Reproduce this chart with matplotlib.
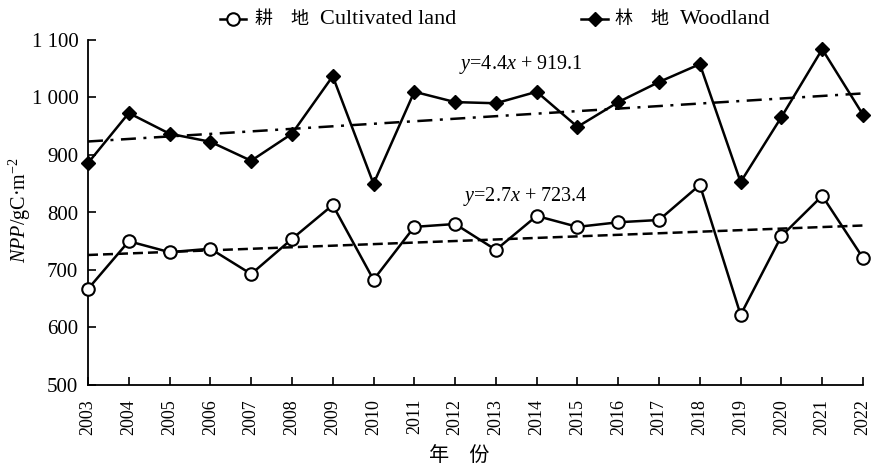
import matplotlib
matplotlib.use("Agg")
import matplotlib.pyplot as plt
import numpy as np
from matplotlib.lines import Line2D

plt.rcParams['font.family'] = ['Liberation Serif', 'Noto Sans CJK SC', 'DejaVu Sans']
plt.rcParams['mathtext.fontset'] = 'custom'
plt.rcParams['mathtext.rm'] = 'Liberation Serif'
plt.rcParams['mathtext.it'] = 'Liberation Serif:italic'

years = list(range(2003, 2023))
woodland = [886, 973, 937, 923, 890, 937, 1037, 850, 1010, 992,
            990, 1010, 949, 992, 1027, 1058, 853, 966, 1084, 970]
cultivated = [667, 750, 731, 737, 693, 754, 813, 683, 775, 780,
              735, 794, 775, 783, 787, 848, 622, 759, 829, 721]
wood_fit = (4.4, 919.1)
cult_fit = (2.7, 723.4)
yticks = [500, 600, 700, 800, 900, 1000, 1100]
ytick_labels = ['500', '600', '700', '800', '900', '1 000', '1 100']
legend_cn = ['耕　地', '林　地']
legend_en = ['Cultivated land', 'Woodland']

W, H = 871, 465
fig = plt.figure(figsize=(W / 100, H / 100), dpi=100)
ax = fig.add_axes([88 / W, 1 - 385 / H, 775 / W, 345 / H])

x = np.array(years)
idx = np.arange(1, len(years) + 1)

ax.plot(x, wood_fit[0] * idx + wood_fit[1], color='black', lw=1.8,
        linestyle=(0, (6, 3, 1.2, 3)), zorder=2, clip_on=False)
ax.plot(x, cult_fit[0] * idx + cult_fit[1], color='black', lw=1.8,
        linestyle=(0, (4, 2)), zorder=2, clip_on=False)

wood_style = dict(color='black', lw=1.8, marker='D', markersize=7,
                  markerfacecolor='black')
cult_style = dict(color='black', lw=1.8, marker='o', markersize=9,
                  markerfacecolor='white', markeredgewidth=1.5)
ax.plot(x, woodland, zorder=3, clip_on=False, **wood_style)
ax.plot(x, cultivated, zorder=3, clip_on=False, **cult_style)

ax.set_xlim(2003, 2022)
ax.set_ylim(500, 1100)
ax.set_xticks(years)
ax.set_xticklabels([str(y) for y in years], rotation=90, fontsize=13)
ax.set_yticks(yticks)
ax.set_yticklabels(ytick_labels, fontsize=15)
ax.tick_params(axis='both', direction='in', length=6, width=1.2, colors='black')
ax.tick_params(axis='x', pad=10)
ax.tick_params(axis='y', pad=7)
for s in ['top', 'right']:
    ax.spines[s].set_visible(False)
for s in ['left', 'bottom']:
    ax.spines[s].set_linewidth(1.3)

ax.set_ylabel(r'$\mathit{NPP}$/gC·m$^{-2}$', fontsize=14.5, va='center')
ax.yaxis.set_label_coords((20 - 88) / 775, 0.507)
ax.set_xlabel('年　份', fontsize=14.5, va='center')
ax.xaxis.set_label_coords((459 - 88) / 775, (385 - 456) / 345)

ax.text(2012.1, 1058, r'$\mathit{y}$=4.4$\mathit{x}$ + 919.1', fontsize=14.5, va='center', ha='left')
ax.text(2012.2, 827, r'$\mathit{y}$=2.7$\mathit{x}$ + 723.4', fontsize=14.5, va='center', ha='left')

# manual legend (figure pixel layout)
ly = 1 - 19 / H
for (hx0, hx1, cnx, enx, style, cn, en) in [
        (220, 246, 255, 320, cult_style, legend_cn[0], legend_en[0]),
        (581, 608, 615, 680, wood_style, legend_cn[1], legend_en[1])]:
    st = dict(style)
    st['markevery'] = [1]
    fig.add_artist(Line2D([hx0 / W, (hx0 + hx1) / 2 / W, hx1 / W], [ly, ly, ly],
                          transform=fig.transFigure, **st))
    fig.text(cnx / W, ly, cn, fontsize=13, family='Noto Sans CJK SC',
             ha='left', va='center')
    fig.text(enx / W, ly, en, fontsize=16, ha='left', va='center')

fig.savefig('out.png', dpi=100)
